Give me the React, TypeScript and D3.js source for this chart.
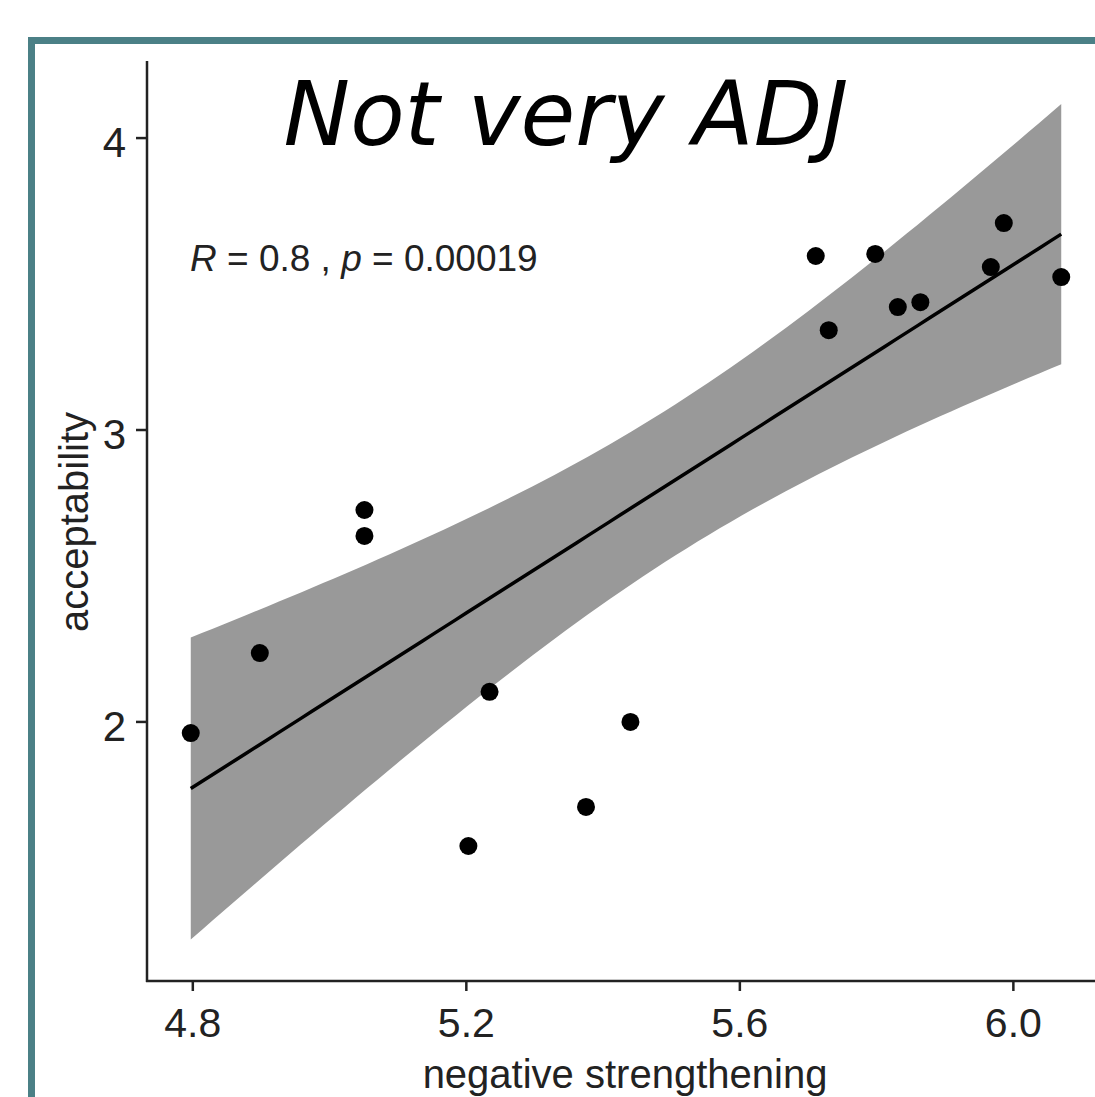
import React from 'react';
import * as d3 from 'd3';

// negative strengthening (x) vs acceptability (y), one point per item
const strengthening = [4.797, 4.898, 5.051, 5.051, 5.234, 5.203, 5.375, 5.44, 5.711, 5.73, 5.798, 5.831, 5.864, 5.967, 5.986, 6.07];
const acceptability = [1.962, 2.236, 2.726, 2.637, 2.103, 1.575, 1.709, 2.0, 3.596, 3.342, 3.603, 3.421, 3.438, 3.558, 3.709, 3.524];
const xTicks = [4.8, 5.2, 5.6, 6.0];
const yTicks = [2, 3, 4];
const title = 'Not very ADJ';
const xTitle = 'negative strengthening';
const yTitle = 'acceptability';

const W = 1095;
const H = 1097;
const font = '"Liberation Sans", Arial, sans-serif';

// linear fit + 95% confidence band, like geom_smooth(method = "lm")
function fitLm(xs: number[], ys: number[]) {
  const n = xs.length;
  const mx = d3.mean(xs)!;
  const my = d3.mean(ys)!;
  const sxx = d3.sum(xs, (x) => (x - mx) ** 2);
  const sxy = d3.sum(xs, (x, i) => (x - mx) * (ys[i] - my));
  const b = sxy / sxx;
  const a = my - b * mx;
  const sse = d3.sum(xs, (x, i) => (ys[i] - (a + b * x)) ** 2);
  const s = Math.sqrt(sse / (n - 2));
  const t = 2.1448; // qt(0.975, 14)
  const [lo, hi] = d3.extent(xs) as [number, number];
  return d3.range(80).map((i) => {
    const x = lo + ((hi - lo) * i) / 79;
    const fit = a + b * x;
    const se = s * Math.sqrt(1 / n + (x - mx) ** 2 / sxx);
    return { x, fit, lower: fit - t * se, upper: fit + t * se };
  });
}

export default function App() {
  const x = d3.scaleLinear().domain([4.733, 6.134]).range([147, 1105]);
  const y = d3.scaleLinear().domain([1.116, 4.264]).range([980, 61]);
  const smooth = fitLm(strengthening, acceptability);

  const band = d3
    .area<{ x: number; lower: number; upper: number }>()
    .x((d) => x(d.x))
    .y0((d) => y(d.lower))
    .y1((d) => y(d.upper))(smooth);
  const line = d3
    .line<{ x: number; fit: number }>()
    .x((d) => x(d.x))
    .y((d) => y(d.fit))(smooth);

  const fmtX = d3.format('.1f');

  return (
    <div style={{ position: 'absolute', left: 0, top: 0 }}>
      <svg width={W} height={H} style={{ display: 'block', background: '#fff' }}>
        {/* teal frame running off the page */}
        <rect x={31.5} y={40.5} width={1200} height={1200} fill="none" stroke="#4b8086" strokeWidth={7} />

        <path d={band!} fill="#999999" />
        <path d={line!} fill="none" stroke="#000" strokeWidth={3.5} />

        {strengthening.map((v, i) => (
          <circle key={i} cx={x(v)} cy={y(acceptability[i])} r={9} fill="#000" />
        ))}

        {/* axes */}
        <line x1={147} x2={147} y1={61} y2={982} stroke="#222" strokeWidth={2.5} />
        <line x1={146} x2={1105} y1={981} y2={981} stroke="#222" strokeWidth={2.5} />

        {xTicks.map((t) => (
          <g key={t}>
            <line x1={x(t)} x2={x(t)} y1={981} y2={991} stroke="#222" strokeWidth={2.5} />
            <text x={x(t)} y={1037} textAnchor="middle" fontFamily={font} fontSize={41} fill="#222">
              {fmtX(t)}
            </text>
          </g>
        ))}
        {yTicks.map((t) => (
          <g key={t}>
            <line x1={136} x2={147} y1={y(t)} y2={y(t)} stroke="#222" strokeWidth={2.5} />
            <text x={126} y={y(t) + 19} textAnchor="end" fontFamily={font} fontSize={42} fill="#222">
              {t}
            </text>
          </g>
        ))}

        <text x={625} y={1088} textAnchor="middle" fontFamily={font} fontSize={40} fill="#222">
          {xTitle}
        </text>
        <text
          transform="translate(88,522) rotate(-90)"
          textAnchor="middle"
          fontFamily={font}
          fontSize={40}
          fill="#222"
        >
          {yTitle}
        </text>

        <text x={190} y={271} fontFamily={font} fontSize={37} fill="#222">
          <tspan fontStyle="italic">R</tspan>
          <tspan> = 0.8 , </tspan>
          <tspan fontStyle="italic">p</tspan>
          <tspan> = 0.00019</tspan>
        </text>

        <text
          x={566}
          y={145}
          textAnchor="middle"
          fontFamily='"DejaVu Sans", Verdana, sans-serif'
          fontStyle="italic"
          fontSize={89}
          fill="#000"
        >
          {title}
        </text>
      </svg>
    </div>
  );
}
